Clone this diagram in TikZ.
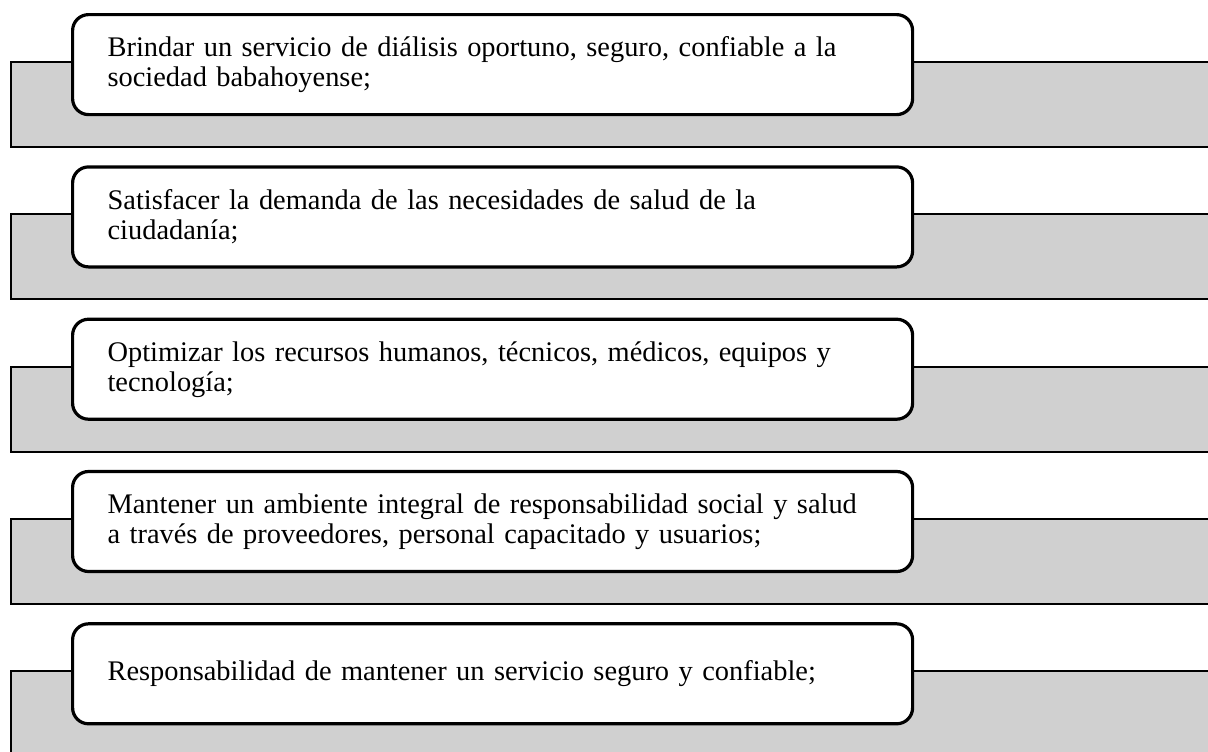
\documentclass[tikz,border=0pt]{standalone}
\usepackage{fontspec}
\setmainfont{Liberation Serif}
\usetikzlibrary{calc}
\definecolor{bargray}{HTML}{D0D0D0}
\tikzset{
  itembox/.style={draw, line width=1.6pt, rounded corners=8pt, fill=white,
    anchor=north west, minimum width=420pt, minimum height=50pt,
    text width=385pt, inner xsep=17.5pt, align=left,
    font=\fontsize{14.2}{15}\selectfont},
  graybar/.style={draw, line width=1pt, fill=bargray}
}
\begin{document}
\begin{tikzpicture}[x=0.5pt,y=-0.5pt]
  \clip (0,0) rectangle (1208,751);
  % one row per objective: gray bar behind, rounded box on top
  \foreach \txt [count=\i from 0] in {%
    {Brindar un servicio de diálisis oportuno, seguro, confiable a la\\sociedad babahoyense;},
    {Satisfacer la demanda de las necesidades de salud de la\\ciudadanía;},
    {Optimizar los recursos humanos, técnicos, médicos, equipos y\\tecnología;},
    {Mantener un ambiente integral de responsabilidad social y salud\\a través de proveedores, personal capacitado y usuarios;},
    {Responsabilidad de mantener un servicio seguro y confiable;}} {
    \coordinate (top\i) at (71,{13+152.3*\i});
    \draw[graybar] ($(top\i)+(-60,49)$) rectangle ($(top\i)+(1160,134)$);
    \node[itembox] (item\i) at (top\i) {\txt};
  }
\end{tikzpicture}
\end{document}
